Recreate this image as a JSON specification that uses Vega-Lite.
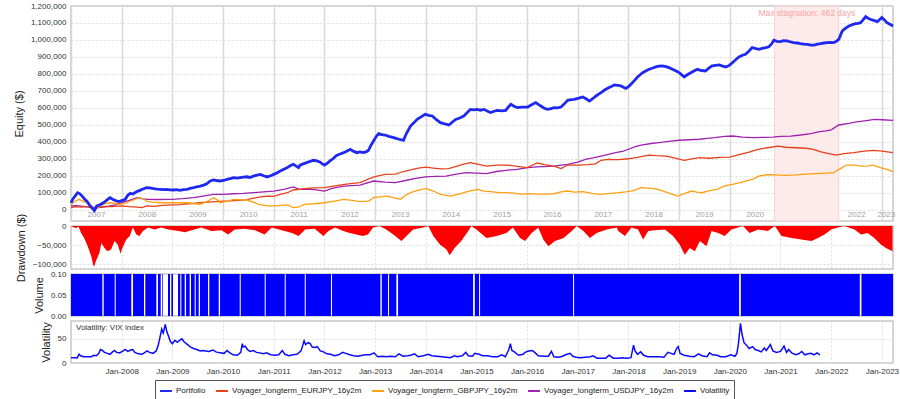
{
 "$schema": "https://vega.github.io/schema/vega-lite/v6.json",
 "background": "white",
 "padding": {"left": 12, "top": 1, "right": 2, "bottom": 2},
 "spacing": 5,
 "bounds": "flush",
 "config": {
  "font": "Liberation Sans",
  "view": {"stroke": "#c8c8c8", "strokeWidth": 1.5},
  "axis": {"labelFont": "Liberation Sans", "labelFontSize": 8, "labelColor": "#333333", "titleFont": "Liberation Sans", "titleFontSize": 11, "titleFontWeight": "normal", "titleColor": "#222222", "domain": false, "ticks": false, "tickSize": 0, "labelPadding": 5, "titlePadding": 6, "gridColor": "#dcdcdc", "gridDash": [2, 2], "minExtent": 0, "labelOverlap": false},
  "legend": {"labelFont": "Liberation Sans", "labelFontSize": 8, "labelColor": "#222222"}
 },
 "datasets": {
  "stagnation": [{"label": "Max stagnation: 462 days", "start": 2020.885, "end": 2022.15, "mid": 2021.52}],
  "portfolio": [
   {"t":2007.00,"v":40000},{"t":2007.04,"v":65000},{"t":2007.08,"v":80000},{"t":2007.13,"v":100000},{"t":2007.17,"v":95000},{"t":2007.22,"v":80000},{"t":2007.27,"v":62000},{"t":2007.31,"v":51000},{"t":2007.36,"v":30000},{"t":2007.41,"v":12000},{"t":2007.46,"v":-5000},{"t":2007.51,"v":22000},{"t":2007.56,"v":28000},{"t":2007.64,"v":41000},{"t":2007.70,"v":55000},{"t":2007.77,"v":71000},{"t":2007.82,"v":62000},{"t":2007.87,"v":55000},{"t":2007.93,"v":48000},{"t":2007.97,"v":51000},
   {"t":2008.03,"v":56000},{"t":2008.07,"v":61000},{"t":2008.12,"v":85000},{"t":2008.17,"v":96000},{"t":2008.22,"v":92000},{"t":2008.26,"v":100000},{"t":2008.31,"v":108000},{"t":2008.36,"v":114000},{"t":2008.42,"v":122000},{"t":2008.49,"v":130000},{"t":2008.55,"v":128000},{"t":2008.63,"v":124000},{"t":2008.70,"v":121000},{"t":2008.76,"v":120000},{"t":2008.83,"v":118000},{"t":2008.89,"v":120000},{"t":2008.95,"v":117000},
   {"t":2009.02,"v":116000},{"t":2009.08,"v":118000},{"t":2009.15,"v":114000},{"t":2009.22,"v":118000},{"t":2009.29,"v":120000},{"t":2009.35,"v":126000},{"t":2009.42,"v":130000},{"t":2009.48,"v":134000},{"t":2009.55,"v":139000},{"t":2009.62,"v":145000},{"t":2009.68,"v":153000},{"t":2009.74,"v":168000},{"t":2009.81,"v":175000},{"t":2009.87,"v":172000},{"t":2009.94,"v":169000},
   {"t":2010.01,"v":172000},{"t":2010.08,"v":179000},{"t":2010.14,"v":183000},{"t":2010.21,"v":189000},{"t":2010.28,"v":186000},{"t":2010.34,"v":189000},{"t":2010.40,"v":192000},{"t":2010.47,"v":194000},{"t":2010.53,"v":190000},{"t":2010.60,"v":198000},{"t":2010.67,"v":204000},{"t":2010.74,"v":208000},{"t":2010.80,"v":200000},{"t":2010.87,"v":193000},{"t":2010.94,"v":200000},
   {"t":2011.00,"v":208000},{"t":2011.06,"v":216000},{"t":2011.13,"v":228000},{"t":2011.20,"v":238000},{"t":2011.27,"v":248000},{"t":2011.33,"v":260000},{"t":2011.39,"v":267000},{"t":2011.45,"v":255000},{"t":2011.49,"v":248000},{"t":2011.52,"v":262000},{"t":2011.58,"v":270000},{"t":2011.65,"v":277000},{"t":2011.72,"v":285000},{"t":2011.78,"v":291000},{"t":2011.85,"v":287000},{"t":2011.91,"v":281000},{"t":2011.96,"v":270000},
   {"t":2012.00,"v":263000},{"t":2012.05,"v":272000},{"t":2012.11,"v":287000},{"t":2012.17,"v":300000},{"t":2012.24,"v":320000},{"t":2012.31,"v":328000},{"t":2012.38,"v":336000},{"t":2012.44,"v":345000},{"t":2012.51,"v":356000},{"t":2012.57,"v":345000},{"t":2012.64,"v":336000},{"t":2012.70,"v":340000},{"t":2012.77,"v":336000},{"t":2012.83,"v":342000},{"t":2012.87,"v":350000},{"t":2012.92,"v":380000},{"t":2012.97,"v":405000},
   {"t":2013.02,"v":430000},{"t":2013.07,"v":448000},{"t":2013.13,"v":442000},{"t":2013.20,"v":440000},{"t":2013.27,"v":432000},{"t":2013.33,"v":428000},{"t":2013.40,"v":422000},{"t":2013.47,"v":415000},{"t":2013.52,"v":412000},{"t":2013.56,"v":409000},{"t":2013.62,"v":450000},{"t":2013.70,"v":493000},{"t":2013.76,"v":510000},{"t":2013.83,"v":532000},{"t":2013.90,"v":545000},{"t":2013.99,"v":562000},
   {"t":2014.06,"v":556000},{"t":2014.13,"v":552000},{"t":2014.21,"v":530000},{"t":2014.29,"v":513000},{"t":2014.38,"v":505000},{"t":2014.46,"v":499000},{"t":2014.52,"v":515000},{"t":2014.59,"v":532000},{"t":2014.67,"v":540000},{"t":2014.75,"v":552000},{"t":2014.81,"v":570000},{"t":2014.88,"v":591000},{"t":2014.95,"v":588000},
   {"t":2015.02,"v":591000},{"t":2015.08,"v":586000},{"t":2015.15,"v":591000},{"t":2015.22,"v":580000},{"t":2015.28,"v":572000},{"t":2015.35,"v":580000},{"t":2015.41,"v":585000},{"t":2015.50,"v":582000},{"t":2015.58,"v":585000},{"t":2015.63,"v":605000},{"t":2015.68,"v":621000},{"t":2015.75,"v":608000},{"t":2015.81,"v":601000},{"t":2015.90,"v":604000},
   {"t":2016.01,"v":605000},{"t":2016.09,"v":618000},{"t":2016.17,"v":631000},{"t":2016.22,"v":620000},{"t":2016.27,"v":611000},{"t":2016.34,"v":598000},{"t":2016.40,"v":591000},{"t":2016.47,"v":596000},{"t":2016.53,"v":601000},{"t":2016.60,"v":600000},{"t":2016.67,"v":605000},{"t":2016.74,"v":625000},{"t":2016.80,"v":644000},{"t":2016.87,"v":648000},{"t":2016.93,"v":650000},
   {"t":2017.02,"v":657000},{"t":2017.10,"v":664000},{"t":2017.17,"v":652000},{"t":2017.23,"v":640000},{"t":2017.30,"v":655000},{"t":2017.36,"v":670000},{"t":2017.42,"v":682000},{"t":2017.46,"v":690000},{"t":2017.53,"v":705000},{"t":2017.59,"v":715000},{"t":2017.66,"v":725000},{"t":2017.72,"v":735000},{"t":2017.79,"v":733000},{"t":2017.85,"v":729000},{"t":2017.91,"v":720000},{"t":2017.95,"v":715000},
   {"t":2018.00,"v":725000},{"t":2018.05,"v":739000},{"t":2018.12,"v":762000},{"t":2018.18,"v":782000},{"t":2018.23,"v":795000},{"t":2018.28,"v":807000},{"t":2018.35,"v":818000},{"t":2018.41,"v":827000},{"t":2018.48,"v":835000},{"t":2018.54,"v":841000},{"t":2018.60,"v":846000},{"t":2018.67,"v":847000},{"t":2018.74,"v":843000},{"t":2018.80,"v":837000},{"t":2018.88,"v":826000},{"t":2018.97,"v":813000},
   {"t":2019.03,"v":800000},{"t":2019.10,"v":782000},{"t":2019.16,"v":795000},{"t":2019.23,"v":807000},{"t":2019.30,"v":818000},{"t":2019.36,"v":827000},{"t":2019.44,"v":820000},{"t":2019.52,"v":817000},{"t":2019.58,"v":832000},{"t":2019.65,"v":847000},{"t":2019.72,"v":850000},{"t":2019.79,"v":853000},{"t":2019.86,"v":846000},{"t":2019.92,"v":841000},{"t":2019.99,"v":850000},
   {"t":2020.05,"v":866000},{"t":2020.12,"v":885000},{"t":2020.18,"v":900000},{"t":2020.25,"v":910000},{"t":2020.31,"v":916000},{"t":2020.38,"v":935000},{"t":2020.44,"v":955000},{"t":2020.50,"v":950000},{"t":2020.57,"v":945000},{"t":2020.64,"v":950000},{"t":2020.71,"v":955000},{"t":2020.77,"v":960000},{"t":2020.82,"v":975000},{"t":2020.87,"v":998000},{"t":2020.93,"v":992000},
   {"t":2021.00,"v":990000},{"t":2021.06,"v":996000},{"t":2021.13,"v":994000},{"t":2021.20,"v":988000},{"t":2021.26,"v":984000},{"t":2021.33,"v":982000},{"t":2021.39,"v":978000},{"t":2021.46,"v":975000},{"t":2021.53,"v":974000},{"t":2021.60,"v":970000},{"t":2021.66,"v":970000},{"t":2021.73,"v":975000},{"t":2021.79,"v":978000},{"t":2021.86,"v":982000},{"t":2021.92,"v":984000},{"t":2021.99,"v":985000},
   {"t":2022.05,"v":984000},{"t":2022.10,"v":992000},{"t":2022.15,"v":1004000},{"t":2022.22,"v":1053000},{"t":2022.28,"v":1068000},{"t":2022.35,"v":1082000},{"t":2022.42,"v":1090000},{"t":2022.48,"v":1096000},{"t":2022.53,"v":1098000},{"t":2022.58,"v":1102000},{"t":2022.63,"v":1118000},{"t":2022.68,"v":1137000},{"t":2022.73,"v":1128000},{"t":2022.77,"v":1122000},{"t":2022.84,"v":1115000},{"t":2022.91,"v":1108000},{"t":2022.96,"v":1120000},
   {"t":2023.00,"v":1132000},{"t":2023.05,"v":1118000},{"t":2023.10,"v":1102000},{"t":2023.16,"v":1092000},{"t":2023.22,"v":1082000}
  ],
  "eurjpy": [
   {"t":2007.00,"v":12000},{"t":2007.10,"v":18000},{"t":2007.20,"v":15000},{"t":2007.30,"v":18000},{"t":2007.40,"v":10000},{"t":2007.46,"v":5000},{"t":2007.55,"v":15000},{"t":2007.65,"v":20000},{"t":2007.80,"v":18000},{"t":2008.00,"v":22000},{"t":2008.15,"v":18000},{"t":2008.30,"v":15000},{"t":2008.40,"v":12000},{"t":2008.50,"v":22000},{"t":2008.65,"v":20000},{"t":2008.80,"v":25000},
   {"t":2009.00,"v":28000},{"t":2009.15,"v":30000},{"t":2009.30,"v":35000},{"t":2009.45,"v":38000},{"t":2009.55,"v":41000},{"t":2009.70,"v":45000},{"t":2009.85,"v":48000},{"t":2010.00,"v":51000},{"t":2010.15,"v":52000},{"t":2010.30,"v":55000},{"t":2010.45,"v":58000},{"t":2010.60,"v":68000},{"t":2010.74,"v":75000},{"t":2010.87,"v":80000},
   {"t":2011.00,"v":78000},{"t":2011.13,"v":90000},{"t":2011.27,"v":100000},{"t":2011.39,"v":116000},{"t":2011.50,"v":120000},{"t":2011.65,"v":125000},{"t":2011.80,"v":128000},{"t":2012.00,"v":130000},{"t":2012.15,"v":138000},{"t":2012.30,"v":145000},{"t":2012.51,"v":153000},{"t":2012.70,"v":160000},{"t":2012.90,"v":185000},
   {"t":2013.00,"v":195000},{"t":2013.20,"v":208000},{"t":2013.40,"v":210000},{"t":2013.56,"v":225000},{"t":2013.70,"v":235000},{"t":2013.85,"v":245000},{"t":2014.00,"v":251000},{"t":2014.15,"v":245000},{"t":2014.30,"v":240000},{"t":2014.45,"v":242000},{"t":2014.60,"v":255000},{"t":2014.75,"v":268000},{"t":2014.88,"v":277000},
   {"t":2015.00,"v":270000},{"t":2015.20,"v":257000},{"t":2015.40,"v":262000},{"t":2015.60,"v":263000},{"t":2015.80,"v":255000},{"t":2016.00,"v":248000},{"t":2016.10,"v":262000},{"t":2016.20,"v":275000},{"t":2016.35,"v":265000},{"t":2016.53,"v":257000},{"t":2016.67,"v":242000},{"t":2016.80,"v":263000},
   {"t":2017.00,"v":262000},{"t":2017.20,"v":265000},{"t":2017.35,"v":270000},{"t":2017.46,"v":291000},{"t":2017.60,"v":297000},{"t":2017.80,"v":295000},{"t":2018.00,"v":300000},{"t":2018.20,"v":310000},{"t":2018.40,"v":322000},{"t":2018.55,"v":318000},{"t":2018.75,"v":316000},{"t":2018.90,"v":305000},
   {"t":2019.10,"v":291000},{"t":2019.25,"v":300000},{"t":2019.40,"v":307000},{"t":2019.60,"v":303000},{"t":2019.80,"v":308000},{"t":2020.00,"v":310000},{"t":2020.20,"v":326000},{"t":2020.40,"v":340000},{"t":2020.55,"v":356000},{"t":2020.75,"v":365000},{"t":2020.95,"v":375000},
   {"t":2021.10,"v":368000},{"t":2021.30,"v":365000},{"t":2021.50,"v":362000},{"t":2021.65,"v":356000},{"t":2021.80,"v":340000},{"t":2021.95,"v":330000},{"t":2022.10,"v":322000},{"t":2022.25,"v":330000},{"t":2022.45,"v":336000},{"t":2022.65,"v":345000},{"t":2022.85,"v":350000},{"t":2023.00,"v":345000},{"t":2023.22,"v":336000}
  ],
  "gbpjpy": [
   {"t":2007.00,"v":31000},{"t":2007.08,"v":50000},{"t":2007.16,"v":61000},{"t":2007.25,"v":48000},{"t":2007.31,"v":41000},{"t":2007.40,"v":20000},{"t":2007.46,"v":2000},{"t":2007.55,"v":18000},{"t":2007.65,"v":35000},{"t":2007.77,"v":41000},{"t":2007.90,"v":35000},{"t":2007.97,"v":31000},
   {"t":2008.10,"v":40000},{"t":2008.17,"v":51000},{"t":2008.30,"v":65000},{"t":2008.36,"v":71000},{"t":2008.45,"v":60000},{"t":2008.49,"v":51000},{"t":2008.60,"v":45000},{"t":2008.76,"v":41000},{"t":2009.00,"v":41000},{"t":2009.20,"v":42000},{"t":2009.29,"v":41000},{"t":2009.45,"v":35000},{"t":2009.55,"v":31000},{"t":2009.70,"v":50000},{"t":2009.81,"v":71000},{"t":2009.90,"v":55000},{"t":2009.94,"v":41000},
   {"t":2010.10,"v":50000},{"t":2010.21,"v":61000},{"t":2010.35,"v":58000},{"t":2010.47,"v":57000},{"t":2010.60,"v":45000},{"t":2010.70,"v":31000},{"t":2010.87,"v":22000},{"t":2011.00,"v":22000},{"t":2011.15,"v":25000},{"t":2011.27,"v":28000},{"t":2011.39,"v":12000},{"t":2011.50,"v":16000},{"t":2011.60,"v":31000},{"t":2011.80,"v":35000},
   {"t":2012.00,"v":41000},{"t":2012.20,"v":51000},{"t":2012.38,"v":61000},{"t":2012.55,"v":55000},{"t":2012.70,"v":47000},{"t":2012.87,"v":50000},{"t":2012.97,"v":71000},{"t":2013.10,"v":75000},{"t":2013.23,"v":80000},{"t":2013.40,"v":68000},{"t":2013.50,"v":61000},{"t":2013.60,"v":85000},{"t":2013.70,"v":100000},{"t":2013.85,"v":115000},
   {"t":2014.02,"v":124000},{"t":2014.15,"v":110000},{"t":2014.29,"v":90000},{"t":2014.40,"v":85000},{"t":2014.49,"v":80000},{"t":2014.65,"v":92000},{"t":2014.75,"v":100000},{"t":2014.90,"v":112000},{"t":2015.02,"v":120000},{"t":2015.15,"v":110000},{"t":2015.28,"v":106000},{"t":2015.45,"v":100000},{"t":2015.58,"v":100000},{"t":2015.75,"v":98000},{"t":2015.90,"v":90000},
   {"t":2016.01,"v":95000},{"t":2016.20,"v":92000},{"t":2016.40,"v":92000},{"t":2016.53,"v":94000},{"t":2016.67,"v":105000},{"t":2016.80,"v":110000},{"t":2016.93,"v":103000},{"t":2017.10,"v":106000},{"t":2017.30,"v":95000},{"t":2017.46,"v":90000},{"t":2017.60,"v":95000},{"t":2017.80,"v":100000},{"t":2017.95,"v":105000},
   {"t":2018.10,"v":112000},{"t":2018.25,"v":130000},{"t":2018.45,"v":125000},{"t":2018.60,"v":118000},{"t":2018.80,"v":98000},{"t":2018.97,"v":80000},{"t":2019.10,"v":95000},{"t":2019.25,"v":110000},{"t":2019.35,"v":103000},{"t":2019.45,"v":100000},{"t":2019.60,"v":112000},{"t":2019.75,"v":120000},{"t":2019.90,"v":140000},
   {"t":2020.05,"v":149000},{"t":2020.20,"v":160000},{"t":2020.31,"v":169000},{"t":2020.45,"v":180000},{"t":2020.60,"v":200000},{"t":2020.75,"v":206000},{"t":2020.90,"v":205000},{"t":2021.10,"v":202000},{"t":2021.30,"v":205000},{"t":2021.50,"v":210000},{"t":2021.70,"v":212000},{"t":2021.90,"v":215000},
   {"t":2022.05,"v":218000},{"t":2022.20,"v":245000},{"t":2022.30,"v":263000},{"t":2022.45,"v":262000},{"t":2022.60,"v":257000},{"t":2022.75,"v":258000},{"t":2022.82,"v":263000},{"t":2022.95,"v":250000},{"t":2023.10,"v":238000},{"t":2023.22,"v":224000}
  ],
  "usdjpy": [
   {"t":2007.00,"v":22000},{"t":2007.10,"v":24000},{"t":2007.25,"v":20000},{"t":2007.40,"v":15000},{"t":2007.55,"v":12000},{"t":2007.70,"v":18000},{"t":2007.90,"v":30000},{"t":2008.00,"v":41000},{"t":2008.15,"v":55000},{"t":2008.30,"v":71000},{"t":2008.40,"v":65000},{"t":2008.50,"v":61000},{"t":2008.70,"v":60000},
   {"t":2009.00,"v":61000},{"t":2009.20,"v":65000},{"t":2009.42,"v":71000},{"t":2009.60,"v":80000},{"t":2009.81,"v":90000},{"t":2010.00,"v":90000},{"t":2010.21,"v":94000},{"t":2010.40,"v":96000},{"t":2010.60,"v":100000},{"t":2010.80,"v":105000},
   {"t":2011.00,"v":110000},{"t":2011.20,"v":120000},{"t":2011.39,"v":134000},{"t":2011.50,"v":120000},{"t":2011.65,"v":122000},{"t":2011.80,"v":118000},{"t":2012.00,"v":110000},{"t":2012.15,"v":125000},{"t":2012.38,"v":139000},{"t":2012.70,"v":145000},{"t":2012.97,"v":169000},
   {"t":2013.20,"v":162000},{"t":2013.40,"v":159000},{"t":2013.60,"v":172000},{"t":2013.80,"v":185000},{"t":2014.00,"v":193000},{"t":2014.20,"v":196000},{"t":2014.40,"v":198000},{"t":2014.60,"v":210000},{"t":2014.80,"v":218000},
   {"t":2015.00,"v":215000},{"t":2015.20,"v":212000},{"t":2015.40,"v":225000},{"t":2015.58,"v":232000},{"t":2015.80,"v":238000},{"t":2016.01,"v":248000},{"t":2016.20,"v":252000},{"t":2016.53,"v":257000},{"t":2016.67,"v":262000},{"t":2016.80,"v":267000},
   {"t":2017.00,"v":280000},{"t":2017.15,"v":297000},{"t":2017.30,"v":305000},{"t":2017.46,"v":316000},{"t":2017.60,"v":326000},{"t":2017.75,"v":336000},{"t":2017.90,"v":345000},{"t":2018.00,"v":356000},{"t":2018.12,"v":370000},{"t":2018.25,"v":381000},{"t":2018.45,"v":390000},{"t":2018.60,"v":395000},{"t":2018.80,"v":402000},
   {"t":2019.00,"v":409000},{"t":2019.20,"v":412000},{"t":2019.40,"v":415000},{"t":2019.55,"v":420000},{"t":2019.70,"v":424000},{"t":2019.90,"v":432000},{"t":2020.05,"v":434000},{"t":2020.25,"v":428000},{"t":2020.45,"v":424000},{"t":2020.65,"v":426000},{"t":2020.85,"v":428000},
   {"t":2021.00,"v":432000},{"t":2021.20,"v":434000},{"t":2021.40,"v":440000},{"t":2021.60,"v":448000},{"t":2021.75,"v":458000},{"t":2021.90,"v":464000},{"t":2022.00,"v":470000},{"t":2022.15,"v":499000},{"t":2022.35,"v":508000},{"t":2022.50,"v":517000},{"t":2022.70,"v":525000},{"t":2022.85,"v":532000},{"t":2023.00,"v":530000},{"t":2023.22,"v":526000}
  ],
  "drawdown": [
   {"t":2007.00,"v":0},{"t":2007.05,"v":-3000},{"t":2007.10,"v":-5000},{"t":2007.15,"v":-2000},{"t":2007.20,"v":-18000},{"t":2007.26,"v":-31000},{"t":2007.33,"v":-53000},{"t":2007.40,"v":-79000},{"t":2007.44,"v":-103000},{"t":2007.46,"v":-105000},{"t":2007.49,"v":-92000},{"t":2007.56,"v":-70000},{"t":2007.60,"v":-44000},{"t":2007.66,"v":-57000},{"t":2007.72,"v":-66000},{"t":2007.79,"v":-61000},{"t":2007.86,"v":-39000},{"t":2007.92,"v":-48000},{"t":2007.98,"v":-72000},
   {"t":2008.00,"v":-62000},{"t":2008.03,"v":-53000},{"t":2008.09,"v":-35000},{"t":2008.16,"v":-26000},{"t":2008.22,"v":-4000},{"t":2008.29,"v":-22000},{"t":2008.35,"v":-26000},{"t":2008.42,"v":-13000},{"t":2008.52,"v":-4000},{"t":2008.65,"v":-9000},{"t":2008.78,"v":-4000},{"t":2008.92,"v":-9000},
   {"t":2009.12,"v":-13000},{"t":2009.25,"v":-16000},{"t":2009.38,"v":-11000},{"t":2009.57,"v":-4000},{"t":2009.77,"v":-13000},{"t":2009.97,"v":-11000},{"t":2010.10,"v":-22000},{"t":2010.23,"v":-9000},{"t":2010.43,"v":-7000},{"t":2010.63,"v":-11000},{"t":2010.82,"v":-22000},{"t":2010.96,"v":-4000},
   {"t":2011.16,"v":-11000},{"t":2011.36,"v":-18000},{"t":2011.49,"v":-26000},{"t":2011.62,"v":-9000},{"t":2011.81,"v":-7000},{"t":2011.98,"v":-26000},{"t":2012.08,"v":-13000},{"t":2012.21,"v":-4000},{"t":2012.37,"v":-13000},{"t":2012.50,"v":-18000},{"t":2012.63,"v":-22000},{"t":2012.76,"v":-26000},{"t":2012.86,"v":-22000},{"t":2012.96,"v":-4000},
   {"t":2013.09,"v":0},{"t":2013.22,"v":-9000},{"t":2013.36,"v":-22000},{"t":2013.52,"v":-39000},{"t":2013.62,"v":-26000},{"t":2013.75,"v":-9000},{"t":2013.95,"v":-4000},{"t":2014.05,"v":0},{"t":2014.15,"v":-26000},{"t":2014.28,"v":-48000},{"t":2014.41,"v":-61000},{"t":2014.47,"v":-76000},{"t":2014.57,"v":-57000},{"t":2014.70,"v":-39000},{"t":2014.84,"v":-13000},{"t":2014.90,"v":0},
   {"t":2015.00,"v":-9000},{"t":2015.20,"v":-31000},{"t":2015.40,"v":-26000},{"t":2015.59,"v":-18000},{"t":2015.72,"v":-4000},{"t":2015.86,"v":-31000},{"t":2015.96,"v":-39000},{"t":2016.09,"v":-18000},{"t":2016.22,"v":-4000},{"t":2016.32,"v":-35000},{"t":2016.42,"v":-53000},{"t":2016.55,"v":-39000},{"t":2016.72,"v":-31000},{"t":2016.88,"v":-13000},{"t":2016.98,"v":0},
   {"t":2017.11,"v":-13000},{"t":2017.24,"v":-31000},{"t":2017.37,"v":-18000},{"t":2017.57,"v":-9000},{"t":2017.77,"v":-4000},{"t":2017.80,"v":-13000},{"t":2017.93,"v":-26000},{"t":2018.06,"v":-4000},{"t":2018.19,"v":-9000},{"t":2018.29,"v":-35000},{"t":2018.39,"v":-13000},{"t":2018.52,"v":-11000},{"t":2018.72,"v":-9000},{"t":2018.88,"v":-26000},
   {"t":2019.01,"v":-48000},{"t":2019.11,"v":-75000},{"t":2019.21,"v":-57000},{"t":2019.31,"v":-66000},{"t":2019.41,"v":-39000},{"t":2019.54,"v":-53000},{"t":2019.64,"v":-13000},{"t":2019.77,"v":-18000},{"t":2019.90,"v":-26000},{"t":2020.03,"v":-9000},{"t":2020.16,"v":-4000},{"t":2020.26,"v":0},{"t":2020.39,"v":-18000},{"t":2020.56,"v":-9000},{"t":2020.75,"v":-13000},{"t":2020.89,"v":0},
   {"t":2021.02,"v":-26000},{"t":2021.22,"v":-31000},{"t":2021.41,"v":-35000},{"t":2021.61,"v":-39000},{"t":2021.74,"v":-31000},{"t":2021.87,"v":-22000},{"t":2022.00,"v":-9000},{"t":2022.13,"v":-4000},{"t":2022.26,"v":0},{"t":2022.46,"v":-9000},{"t":2022.59,"v":-22000},{"t":2022.72,"v":-18000},{"t":2022.85,"v":-31000},{"t":2022.98,"v":-48000},{"t":2023.08,"v":-57000},{"t":2023.21,"v":-66000}
  ],
  "volume": [
   {"start":2007.0,"end":2007.618,"volume":0.1},{"start":2007.645,"end":2007.862,"volume":0.1},{"start":2007.882,"end":2008.190,"volume":0.1},{"start":2008.224,"end":2008.441,"volume":0.1},{"start":2008.466,"end":2008.684,"volume":0.1},{"start":2008.717,"end":2008.770,"volume":0.1},{"start":2008.802,"end":2008.816,"volume":0.1},{"start":2008.914,"end":2008.954,"volume":0.1},{"start":2008.980,"end":2009.013,"volume":0.1},{"start":2009.112,"end":2009.157,"volume":0.1},
   {"start":2009.177,"end":2009.244,"volume":0.1},{"start":2009.270,"end":2009.342,"volume":0.1},{"start":2009.368,"end":2009.441,"volume":0.1},{"start":2009.461,"end":2009.520,"volume":0.1},{"start":2009.546,"end":2009.704,"volume":0.1},{"start":2009.729,"end":2009.915,"volume":0.1},{"start":2009.941,"end":2010.329,"volume":0.1},{"start":2010.349,"end":2010.822,"volume":0.1},{"start":2010.842,"end":2011.217,"volume":0.1},{"start":2011.237,"end":2011.612,"volume":0.1},
   {"start":2011.632,"end":2012.130,"volume":0.1},{"start":2012.150,"end":2013.105,"volume":0.1},{"start":2013.132,"end":2013.256,"volume":0.1},{"start":2013.276,"end":2013.420,"volume":0.1},{"start":2013.454,"end":2014.934,"volume":0.1},{"start":2014.968,"end":2015.052,"volume":0.1},{"start":2015.072,"end":2016.907,"volume":0.1},{"start":2016.927,"end":2020.183,"volume":0.1},{"start":2020.217,"end":2022.565,"volume":0.1},{"start":2022.597,"end":2023.22,"volume":0.1}
  ],
  "vix": [
   {"t":2007.00,"v":11},{"t":2007.08,"v":11},{"t":2007.12,"v":10.5},{"t":2007.16,"v":18},{"t":2007.19,"v":15},{"t":2007.25,"v":13},{"t":2007.33,"v":13},{"t":2007.40,"v":13},{"t":2007.45,"v":16},{"t":2007.50,"v":15},{"t":2007.55,"v":20},{"t":2007.58,"v":28},{"t":2007.62,"v":26},{"t":2007.66,"v":22},{"t":2007.72,"v":20},{"t":2007.77,"v":18},{"t":2007.82,"v":23},{"t":2007.86,"v":26},{"t":2007.90,"v":22},{"t":2007.96,"v":21},
   {"t":2008.03,"v":25},{"t":2008.07,"v":28},{"t":2008.12,"v":24},{"t":2008.18,"v":27},{"t":2008.22,"v":28},{"t":2008.26,"v":22},{"t":2008.33,"v":19},{"t":2008.40,"v":18},{"t":2008.46,"v":22},{"t":2008.50,"v":25},{"t":2008.55,"v":22},{"t":2008.62,"v":20},{"t":2008.68,"v":25},{"t":2008.72,"v":36},{"t":2008.76,"v":55},{"t":2008.79,"v":70},{"t":2008.82,"v":62},{"t":2008.86,"v":80},{"t":2008.89,"v":65},{"t":2008.92,"v":57},{"t":2008.96,"v":45},
   {"t":2009.00,"v":40},{"t":2009.05,"v":47},{"t":2009.10,"v":43},{"t":2009.14,"v":47},{"t":2009.19,"v":50},{"t":2009.23,"v":44},{"t":2009.30,"v":38},{"t":2009.36,"v":33},{"t":2009.42,"v":30},{"t":2009.48,"v":28},{"t":2009.55,"v":25},{"t":2009.60,"v":26},{"t":2009.66,"v":25},{"t":2009.72,"v":24},{"t":2009.80,"v":27},{"t":2009.86,"v":23},{"t":2009.94,"v":21},
   {"t":2010.02,"v":20},{"t":2010.08,"v":26},{"t":2010.12,"v":22},{"t":2010.20,"v":17},{"t":2010.28,"v":16},{"t":2010.35,"v":22},{"t":2010.38,"v":40},{"t":2010.40,"v":33},{"t":2010.44,"v":35},{"t":2010.48,"v":28},{"t":2010.53,"v":24},{"t":2010.60,"v":26},{"t":2010.66,"v":22},{"t":2010.72,"v":21},{"t":2010.80,"v":19},{"t":2010.86,"v":21},{"t":2010.94,"v":17},
   {"t":2011.02,"v":16},{"t":2011.10,"v":17},{"t":2011.17,"v":26},{"t":2011.22,"v":18},{"t":2011.30,"v":15},{"t":2011.38,"v":17},{"t":2011.46,"v":18},{"t":2011.54,"v":25},{"t":2011.60,"v":46},{"t":2011.63,"v":38},{"t":2011.68,"v":42},{"t":2011.72,"v":40},{"t":2011.76,"v":33},{"t":2011.82,"v":32},{"t":2011.86,"v":34},{"t":2011.92,"v":25},{"t":2011.98,"v":23},
   {"t":2012.05,"v":19},{"t":2012.12,"v":18},{"t":2012.20,"v":15},{"t":2012.28,"v":17},{"t":2012.36,"v":22},{"t":2012.42,"v":20},{"t":2012.50,"v":17},{"t":2012.58,"v":15},{"t":2012.66,"v":14},{"t":2012.75,"v":16},{"t":2012.82,"v":17},{"t":2012.90,"v":17},{"t":2012.98,"v":21},
   {"t":2013.05,"v":13},{"t":2013.15,"v":14},{"t":2013.22,"v":13},{"t":2013.30,"v":14},{"t":2013.40,"v":13},{"t":2013.47,"v":19},{"t":2013.55,"v":14},{"t":2013.64,"v":15},{"t":2013.70,"v":16},{"t":2013.78,"v":19},{"t":2013.85,"v":13},{"t":2013.95,"v":15},
   {"t":2014.05,"v":18},{"t":2014.12,"v":15},{"t":2014.22,"v":14},{"t":2014.32,"v":13},{"t":2014.40,"v":12},{"t":2014.48,"v":11},{"t":2014.57,"v":15},{"t":2014.62,"v":13},{"t":2014.72,"v":15},{"t":2014.79,"v":22},{"t":2014.84,"v":15},{"t":2014.92,"v":14},{"t":2014.97,"v":20},
   {"t":2015.05,"v":18},{"t":2015.12,"v":15},{"t":2015.22,"v":15},{"t":2015.32,"v":13},{"t":2015.42,"v":13},{"t":2015.50,"v":17},{"t":2015.57,"v":13},{"t":2015.64,"v":28},{"t":2015.67,"v":40},{"t":2015.70,"v":26},{"t":2015.75,"v":23},{"t":2015.83,"v":16},{"t":2015.92,"v":18},{"t":2015.96,"v":22},
   {"t":2016.03,"v":25},{"t":2016.10,"v":26},{"t":2016.15,"v":22},{"t":2016.22,"v":15},{"t":2016.32,"v":14},{"t":2016.42,"v":14},{"t":2016.48,"v":24},{"t":2016.53,"v":13},{"t":2016.62,"v":12},{"t":2016.70,"v":14},{"t":2016.76,"v":17},{"t":2016.85,"v":20},{"t":2016.90,"v":14},{"t":2016.97,"v":12},
   {"t":2017.05,"v":11},{"t":2017.15,"v":12},{"t":2017.25,"v":13},{"t":2017.30,"v":15},{"t":2017.38,"v":10},{"t":2017.45,"v":10},{"t":2017.55,"v":10},{"t":2017.62,"v":16},{"t":2017.70,"v":10},{"t":2017.80,"v":10},{"t":2017.88,"v":11},{"t":2017.97,"v":10},
   {"t":2018.05,"v":11},{"t":2018.10,"v":37},{"t":2018.13,"v":25},{"t":2018.18,"v":18},{"t":2018.24,"v":23},{"t":2018.30,"v":16},{"t":2018.38,"v":13},{"t":2018.46,"v":13},{"t":2018.52,"v":13},{"t":2018.62,"v":13},{"t":2018.70,"v":12},{"t":2018.78,"v":22},{"t":2018.84,"v":20},{"t":2018.90,"v":18},{"t":2018.95,"v":30},{"t":2018.98,"v":34},
   {"t":2019.02,"v":20},{"t":2019.10,"v":16},{"t":2019.20,"v":14},{"t":2019.30,"v":13},{"t":2019.38,"v":19},{"t":2019.45,"v":15},{"t":2019.55,"v":13},{"t":2019.60,"v":21},{"t":2019.66,"v":17},{"t":2019.75,"v":16},{"t":2019.82,"v":13},{"t":2019.92,"v":13},
   {"t":2020.02,"v":17},{"t":2020.10,"v":14},{"t":2020.14,"v":20},{"t":2020.17,"v":40},{"t":2020.21,"v":82},{"t":2020.24,"v":60},{"t":2020.28,"v":42},{"t":2020.33,"v":37},{"t":2020.38,"v":30},{"t":2020.45,"v":34},{"t":2020.50,"v":28},{"t":2020.56,"v":26},{"t":2020.62,"v":23},{"t":2020.68,"v":31},{"t":2020.72,"v":26},{"t":2020.80,"v":38},{"t":2020.85,"v":25},{"t":2020.92,"v":22},
   {"t":2021.00,"v":24},{"t":2021.07,"v":35},{"t":2021.12,"v":22},{"t":2021.16,"v":28},{"t":2021.22,"v":21},{"t":2021.30,"v":17},{"t":2021.36,"v":19},{"t":2021.42,"v":24},{"t":2021.48,"v":17},{"t":2021.55,"v":19},{"t":2021.60,"v":20},{"t":2021.66,"v":17},{"t":2021.72,"v":21},{"t":2021.78,"v":17}
  ]
 },
 "resolve": {"scale": {"y": "independent", "color": "shared"}, "legend": {"color": "shared"}},
 "vconcat": [
  {
   "width": 822, "height": 215,
   "layer": [
    {
     "data": {"name": "stagnation"},
     "mark": {"type": "rect", "color": "#fdeaea", "stroke": "#f6d0d0", "strokeWidth": 1},
     "encoding": {
      "x": {"field": "start", "type": "quantitative", "scale": {"domain": [2007, 2023.22], "nice": false, "zero": false},
       "axis": {"title": null, "values": [2007,2008,2009,2010,2011,2012,2013,2014,2015,2016,2017,2018,2019,2020,2021,2022,2023], "format": "d", "labelColor": "#a0a0a0", "labelFontSize": 8, "labelPadding": -11, "labelOffset": {"condition": {"test": "datum.value == 2023", "value": 4}, "value": 25}, "labelFlush": false, "grid": true, "gridDash": [], "gridColor": "#d8d8d8", "gridWidth": 1.5}},
      "x2": {"field": "end"}
     }
    },
    {
     "data": {"name": "stagnation"},
     "mark": {"type": "text", "color": "#f4a6a6", "fontSize": 8.5, "baseline": "middle", "align": "center"},
     "encoding": {
      "x": {"field": "mid", "type": "quantitative"},
      "y": {"datum": 1160000, "type": "quantitative", "scale": {"domain": [-66600, 1200000], "nice": false, "zero": false},
       "axis": {"title": "Equity ($)", "values": [0,100000,200000,300000,400000,500000,600000,700000,800000,900000,1000000,1100000,1200000], "format": ",d", "grid": true}},
      "text": {"field": "label"}
     }
    },
    {
     "data": {"name": "usdjpy"},
     "mark": {"type": "line", "strokeWidth": 1.3},
     "encoding": {
      "x": {"field": "t", "type": "quantitative"},
      "y": {"field": "v", "type": "quantitative",
       "axis": {"title": "Equity ($)", "values": [0,100000,200000,300000,400000,500000,600000,700000,800000,900000,1000000,1100000,1200000], "format": ",d", "grid": true}},
      "color": {"datum": "Voyager_longterm_USDJPY_16y2m", "type": "nominal",
       "scale": {"domain": ["Portfolio", "Voyager_longterm_EURJPY_16y2m", "Voyager_longterm_GBPJPY_16y2m", "Voyager_longterm_USDJPY_16y2m", "Volatility"], "range": ["#1e28f0", "#e8401a", "#ffa010", "#a020b0", "#0a0aff"]},
       "legend": {"title": null, "orient": "none", "direction": "horizontal", "legendX": 84, "legendY": 374, "symbolType": "stroke", "symbolStrokeWidth": 2, "symbolSize": 140, "labelFontSize": 8, "columnPadding": 6, "labelOffset": 3, "strokeColor": "#555555", "padding": 4, "cornerRadius": 0}}
     }
    },
    {
     "data": {"name": "eurjpy"},
     "mark": {"type": "line", "strokeWidth": 1.3},
     "encoding": {
      "x": {"field": "t", "type": "quantitative"},
      "y": {"field": "v", "type": "quantitative",
       "axis": {"title": "Equity ($)", "values": [0,100000,200000,300000,400000,500000,600000,700000,800000,900000,1000000,1100000,1200000], "format": ",d", "grid": true}},
      "color": {"datum": "Voyager_longterm_EURJPY_16y2m", "type": "nominal"}
     }
    },
    {
     "data": {"name": "gbpjpy"},
     "mark": {"type": "line", "strokeWidth": 1.3},
     "encoding": {
      "x": {"field": "t", "type": "quantitative"},
      "y": {"field": "v", "type": "quantitative",
       "axis": {"title": "Equity ($)", "values": [0,100000,200000,300000,400000,500000,600000,700000,800000,900000,1000000,1100000,1200000], "format": ",d", "grid": true}},
      "color": {"datum": "Voyager_longterm_GBPJPY_16y2m", "type": "nominal"}
     }
    },
    {
     "data": {"name": "portfolio"},
     "mark": {"type": "line", "strokeWidth": 2.8},
     "encoding": {
      "x": {"field": "t", "type": "quantitative"},
      "y": {"field": "v", "type": "quantitative",
       "axis": {"title": "Equity ($)", "values": [0,100000,200000,300000,400000,500000,600000,700000,800000,900000,1000000,1100000,1200000], "format": ",d", "grid": true}},
      "color": {"datum": "Portfolio", "type": "nominal"}
     }
    }
   ]
  },
  {
   "width": 822, "height": 43,
   "data": {"name": "drawdown"},
   "mark": {"type": "area", "color": "#ff0000"},
   "encoding": {
    "x": {"field": "t", "type": "quantitative", "scale": {"domain": [2007, 2023.22], "nice": false, "zero": false},
     "axis": {"title": null, "labels": false, "grid": true, "values": [2008,2009,2010,2011,2012,2013,2014,2015,2016,2017,2018,2019,2020,2021,2022,2023]}},
    "y": {"field": "v", "type": "quantitative", "scale": {"domain": [-112000, 0], "nice": false},
     "axis": {"title": "Drawdown ($)", "values": [0, -50000, -100000], "format": ",d", "grid": true}},
    "y2": {"datum": 0}
   }
  },
  {
   "width": 822, "height": 42,
   "data": {"name": "volume"},
   "mark": {"type": "rect", "color": "#0000ff"},
   "encoding": {
    "x": {"field": "start", "type": "quantitative", "scale": {"domain": [2007, 2023.22], "nice": false, "zero": false}, "axis": null},
    "x2": {"field": "end"},
    "y": {"field": "volume", "type": "quantitative", "scale": {"domain": [0, 0.1], "nice": false},
     "axis": {"title": "Volume", "values": [0, 0.05, 0.1], "format": ".2f", "grid": false}},
    "y2": {"datum": 0}
   }
  },
  {
   "width": 822, "height": 42,
   "title": {"text": "Volatility: VIX index", "anchor": "start", "orient": "top", "offset": -12, "dx": 5, "fontSize": 8, "fontWeight": "normal", "color": "#333333", "font": "Liberation Sans", "frame": "group"},
   "data": {"name": "vix"},
   "mark": {"type": "line", "strokeWidth": 1.5},
   "encoding": {
    "x": {"field": "t", "type": "quantitative", "scale": {"domain": [2007, 2023.22], "nice": false, "zero": false},
     "axis": {"title": null, "values": [2008,2009,2010,2011,2012,2013,2014,2015,2016,2017,2018,2019,2020,2021,2022,2023], "labelExpr": "'Jan-' + datum.value", "labelPadding": 4, "labelFlush": false, "grid": true}},
    "y": {"field": "v", "type": "quantitative", "scale": {"domain": [0, 87], "nice": false},
     "axis": {"title": "Volatility", "values": [0, 50], "grid": true}},
    "color": {"datum": "Volatility", "type": "nominal"}
   }
  }
 ]
}
